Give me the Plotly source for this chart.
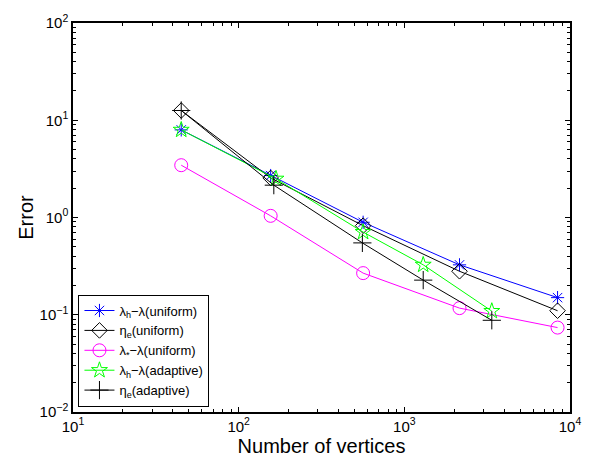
import plotly.graph_objects as go

# uniform refinement
n_uniform = [45, 156, 564, 2153, 8412]
lam_h_uniform = [7.96, 2.70, 0.893, 0.326, 0.150]
eta_uniform = [12.6, 2.55, 0.824, 0.280, 0.110]
lam_star_uniform = [3.45, 1.04, 0.268, 0.117, 0.0738]

# adaptive refinement
n_adapt_lam = [45, 168, 564, 1300, 3373]
lam_h_adapt = [7.96, 2.50, 0.708, 0.326, 0.109]
n_adapt_eta = [45, 163, 558, 1300, 3373]
eta_adapt = [12.6, 2.15, 0.548, 0.227, 0.0877]

names = [
    "λ<sub>h</sub>−λ(uniform)",
    "η<sub>e</sub>(uniform)",
    "λ<sub>*</sub>−λ(uniform)",
    "λ<sub>h</sub>−λ(adaptive)",
    "η<sub>e</sub>(adaptive)",
]

x_tickvals = [10, 100, 1000, 10000]
x_ticktext = ["10<sup>1</sup>", "10<sup>2</sup>", "10<sup>3</sup>", "10<sup>4</sup>"]
y_tickvals = [0.01, 0.1, 1, 10, 100]
y_ticktext = ["10<sup>−2</sup>", "10<sup>−1</sup>", "10<sup>0</sup>", "10<sup>1</sup>", "10<sup>2</sup>"]

x_minor = [m * 10 ** k for k in range(1, 4) for m in range(2, 10)]
y_minor = [m * 10.0 ** k for k in range(-2, 2) for m in range(2, 10)]

FONT = "Liberation Sans, Arial, sans-serif"

fig = go.Figure()
series = [
    (n_uniform, lam_h_uniform, "blue", "asterisk-open", 11),
    (n_uniform, eta_uniform, "black", "diamond-open", 12),
    (n_uniform, lam_star_uniform, "magenta", "circle-open", 13),
    (n_adapt_lam, lam_h_adapt, "#00ff00", "star-open", 12),
    (n_adapt_eta, eta_adapt, "black", "cross-thin-open", 13),
]
for (xs, ys, col, sym, sz), nm in zip(series, names):
    fig.add_trace(go.Scatter(
        x=xs, y=ys, name=nm, mode="lines+markers",
        line=dict(color=col, width=1),
        marker=dict(symbol=sym, size=sz, color=col, line=dict(color=col, width=1)),
    ))

axis_common = dict(
    type="log", showgrid=False, zeroline=False,
    showline=True, linecolor="black", linewidth=1.5, mirror="ticks",
    ticks="inside", ticklen=5, tickcolor="black", tickmode="array",
    tickfont=dict(family=FONT, size=15, color="black"),
)

fig.update_xaxes(
    **axis_common, range=[1, 4], tickvals=x_tickvals, ticktext=x_ticktext,
    minor=dict(ticks="inside", ticklen=3, tickcolor="black", tickmode="array", tickvals=x_minor, showgrid=False),
    title=dict(text="Number of vertices", font=dict(family=FONT, size=20, color="black"), standoff=2),
)
fig.update_yaxes(
    **axis_common, range=[-2, 2], tickvals=y_tickvals, ticktext=y_ticktext,
    minor=dict(ticks="inside", ticklen=3, tickcolor="black", tickmode="array", tickvals=y_minor, showgrid=False),
    title=dict(text="Error", font=dict(family=FONT, size=20, color="black"), standoff=1),
)

fig.update_layout(
    width=593, height=464,
    margin=dict(l=73, r=17, t=15, b=52),
    paper_bgcolor="white", plot_bgcolor="white",
    font=dict(family=FONT, color="black"),
    legend=dict(
        x=0.011, y=0.014, xanchor="left", yanchor="bottom",
        bgcolor="white", bordercolor="black", borderwidth=1,
        font=dict(size=13, color="black"), tracegroupgap=0, itemwidth=30,
    ),
)

fig.write_html("out.html")
